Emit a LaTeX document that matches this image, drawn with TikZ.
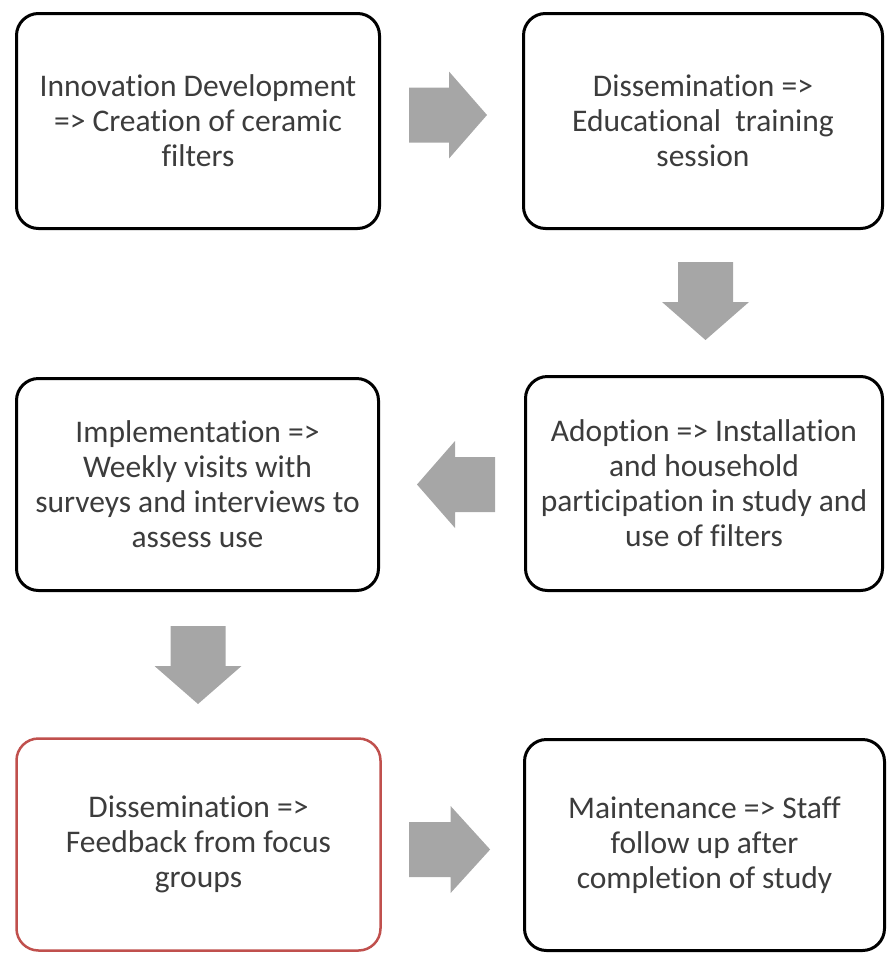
\documentclass[tikz,border=0pt]{standalone}
\usepackage{fontspec}
\setmainfont{Carlito}[Ligatures=NoCommon]
\definecolor{txtgray}{RGB}{60,60,60}
\definecolor{arrgray}{RGB}{166,166,166}
\definecolor{boxred}{RGB}{192,80,77}
\begin{document}
\begin{tikzpicture}[x=1pt,y=-1pt,
  stepbox/.style={draw=black,line width=3pt,rounded corners=22pt,fill=white,
    align=center,text=txtgray,inner sep=0pt,
    font=\fontsize{31.5}{35}\selectfont},
  redbox/.style={stepbox,draw=boxred,line width=2.5pt},
  blockarrow/.pic={\fill[arrgray] (0,-27.5) -- (40,-27.5) -- (40,-43.5) -- (78,0) -- (40,43.5) -- (40,27.5) -- (0,27.5) -- cycle;}
]
\useasboundingbox (0,0) rectangle (889,956);
\node[stepbox,minimum width=363pt,minimum height=215pt] (b1) at (198,121)
  {Innovation Development\\=> Creation of ceramic\\filters};
\node[stepbox,minimum width=359pt,minimum height=215pt] (b2) at (703,121)
  {Dissemination =>\\Educational\ \ training\\session};
\node[stepbox,minimum width=362pt,minimum height=212pt] (b3) at (197.5,484.5)
  {Implementation =>\\Weekly visits with\\surveys and interviews to\\assess use};
\node[stepbox,minimum width=357pt,minimum height=214pt] (b4) at (704,483.5)
  {Adoption => Installation\\and household\\participation in study and\\use of filters};
\node[redbox,minimum width=364pt,minimum height=212pt] (b5) at (198.5,844.5)
  {Dissemination =>\\Feedback from focus\\groups};
\node[stepbox,minimum width=360pt,minimum height=211pt] (b6) at (704.5,845)
  {Maintenance => Staff\\follow up after\\completion of study};
\pic at (409,115) {blockarrow};
\pic[rotate=-90] at (705.5,262) {blockarrow};
\pic[rotate=180] at (495,484.5) {blockarrow};
\pic[rotate=-90] at (198,626) {blockarrow};
\pic[xscale=1.04] at (409,849.5) {blockarrow};
\end{tikzpicture}
\end{document}
